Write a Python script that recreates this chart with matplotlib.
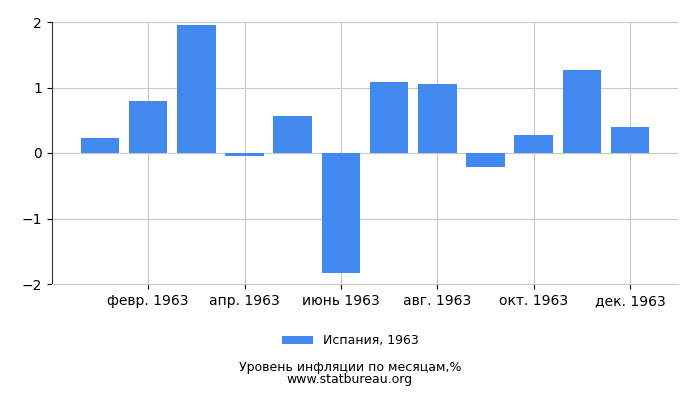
import matplotlib
matplotlib.use("Agg")
import matplotlib.pyplot as plt

months = list(range(12))
values = [0.23, 0.80, 1.95, -0.05, 0.57, -1.83, 1.08, 1.05, -0.22, 0.28, 1.26, 0.39]
tick_pos = [1, 3, 5, 7, 9, 11]
tick_labels = ["февр. 1963", "апр. 1963", "июнь 1963", "авг. 1963", "окт. 1963", "дек. 1963"]

fig = plt.figure(figsize=(7, 4), dpi=100)
ax = fig.add_axes([0.074, 0.29, 0.895, 0.655])
ax.bar(months, values, width=0.8, color="#4189ee", label="Испания, 1963", zorder=3)
ax.set_xlim(-1, 12)
ax.set_ylim(-2, 2)
ax.set_yticks([-2, -1, 0, 1, 2])
ax.set_xticks(tick_pos)
ax.set_xticklabels(tick_labels, fontsize=10)
ax.tick_params(axis="y", labelsize=10)
ax.grid(True, color="#c8c8c8", linewidth=0.8, zorder=0)
for s in ["top", "right"]:
    ax.spines[s].set_visible(False)
ax.spines["left"].set_color("#333333")
ax.spines["bottom"].set_color("#c8c8c8")
fig.legend(loc="center", bbox_to_anchor=(0.5, 0.148), frameon=False, fontsize=9, handlelength=2.5)
fig.text(0.5, 0.072, "Уровень инфляции по месяцам,%", ha="center", fontsize=9)
fig.text(0.5, 0.042, "www.statbureau.org", ha="center", fontsize=9)
fig.savefig("out.png", dpi=100)
